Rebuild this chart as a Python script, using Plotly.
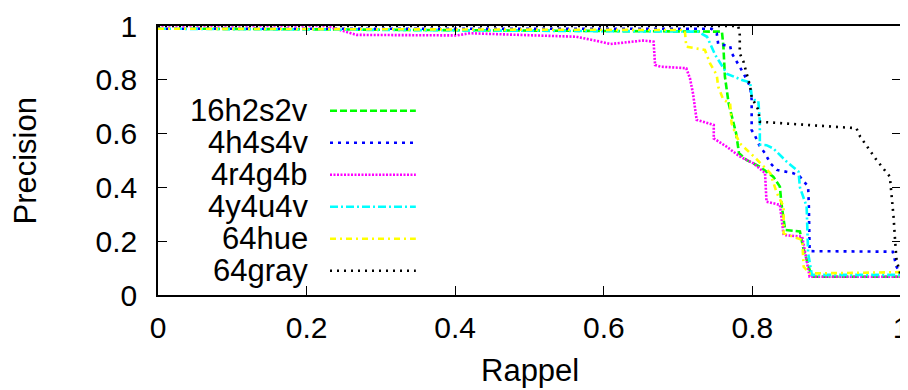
import plotly.graph_objects as go

# ---- data (recall, precision) ----
names = ["16h2s2v", "4h4s4v", "4r4g4b", "4y4u4v", "64hue", "64gray"]

x_16h2s2v = [0.047, 0.759, 0.761, 0.763, 0.768, 0.774, 0.778, 0.782, 0.792, 0.810, 0.828, 0.837, 0.839, 0.844, 0.864, 0.868, 0.877, 0.882, 1.0]
y_16h2s2v = [0.99, 0.979, 0.923, 0.812, 0.713, 0.651, 0.602, 0.527, 0.502, 0.477, 0.440, 0.403, 0.341, 0.242, 0.236, 0.180, 0.093, 0.068, 0.068]

x_4h4s4v = [0.0, 0.745, 0.752, 0.754, 0.770, 0.772, 0.779, 0.788, 0.797, 0.799, 0.799, 0.803, 0.810, 0.817, 0.824, 0.833, 0.855, 0.864, 0.875, 0.876, 0.877, 0.989, 0.994, 1.0]
y_4h4s4v = [0.99, 0.99, 0.973, 0.932, 0.926, 0.900, 0.867, 0.824, 0.775, 0.725, 0.613, 0.595, 0.552, 0.527, 0.490, 0.465, 0.453, 0.440, 0.403, 0.329, 0.163, 0.161, 0.105, 0.075]

x_4r4g4b = [0.0, 0.227, 0.267, 0.402, 0.420, 0.563, 0.595, 0.609, 0.653, 0.667, 0.669, 0.676, 0.711, 0.716, 0.720, 0.725, 0.748, 0.748, 0.765, 0.783, 0.801, 0.817, 0.819, 0.837, 0.842, 0.867, 0.877, 1.0]
y_4r4g4b = [1.0, 1.0, 0.967, 0.965, 0.973, 0.960, 0.942, 0.933, 0.946, 0.942, 0.855, 0.849, 0.843, 0.805, 0.750, 0.651, 0.632, 0.582, 0.552, 0.515, 0.490, 0.453, 0.347, 0.335, 0.223, 0.217, 0.068, 0.068]

x_4y4u4v = [0.0, 0.727, 0.739, 0.747, 0.750, 0.766, 0.788, 0.797, 0.799, 0.803, 0.808, 0.810, 0.810, 0.819, 0.828, 0.846, 0.862, 0.864, 0.873, 0.875, 0.880, 1.0]
y_4y4u4v = [0.99, 0.979, 0.960, 0.915, 0.892, 0.822, 0.797, 0.790, 0.740, 0.725, 0.721, 0.647, 0.559, 0.557, 0.545, 0.496, 0.459, 0.400, 0.329, 0.155, 0.075, 0.075]

x_64hue = [0.0, 0.709, 0.711, 0.725, 0.736, 0.743, 0.752, 0.754, 0.761, 0.770, 0.772, 0.777, 0.783, 0.802, 0.824, 0.833, 0.842, 0.842, 0.867, 0.869, 0.877, 1.0]
y_64hue = [0.99, 0.985, 0.923, 0.917, 0.911, 0.861, 0.818, 0.774, 0.725, 0.713, 0.638, 0.601, 0.564, 0.515, 0.453, 0.378, 0.329, 0.229, 0.205, 0.105, 0.080, 0.085]

x_64gray = [0.0, 0.781, 0.783, 0.783, 0.788, 0.792, 0.797, 0.799, 0.808, 0.810, 0.940, 0.945, 0.967, 0.985, 0.987, 0.990, 0.992, 0.994, 0.999]
y_64gray = [1.0, 1.0, 0.967, 0.898, 0.867, 0.824, 0.775, 0.736, 0.688, 0.644, 0.620, 0.589, 0.502, 0.440, 0.390, 0.290, 0.204, 0.130, 0.078]

tick_vals = [0, 0.2, 0.4, 0.6, 0.8, 1]
tick_text = ["0", "0.2", "0.4", "0.6", "0.8", "1"]

series_x = [x_16h2s2v, x_4h4s4v, x_4r4g4b, x_4y4u4v, x_64hue, x_64gray]
series_y = [y_16h2s2v, y_4h4s4v, y_4r4g4b, y_4y4u4v, y_64hue, y_64gray]
colors = ["#00ff00", "#0000ff", "#ff00ff", "#00ffff", "#ffff00", "#000000"]
dashes = ["7px,3px", "3px,5px", "2px,1.5px", "8px,3px,2px,3px", "6px,4px,2px,4px", "2px,5px"]

FONT = "Liberation Sans, Arial, Helvetica, sans-serif"
FS_TICK = 30
FS_TEXT = 31

fig = go.Figure()
for nm, xs, ys, c, d in zip(names, series_x, series_y, colors, dashes):
    fig.add_trace(go.Scatter(x=xs, y=ys, mode="lines", name=nm,
                             line=dict(color=c, width=2.6, dash=d),
                             showlegend=False))

# gnuplot-style legend: right-aligned label, sample line to its right
leg_y0 = 0.685
leg_dy = 0.119
for i, (nm, c, d) in enumerate(zip(names, colors, dashes)):
    yy = leg_y0 - i * leg_dy
    fig.add_annotation(x=0.2046, y=yy, xref="paper", yref="paper", text=nm,
                       showarrow=False, xanchor="right", yanchor="middle",
                       font=dict(family=FONT, size=FS_TEXT, color="black"))
    fig.add_shape(type="line", xref="paper", yref="paper",
                  x0=0.2315, x1=0.347, y0=yy, y1=yy,
                  line=dict(color=c, width=2.6, dash=d))

# axis titles
fig.add_annotation(x=0.5, y=-0.282, xref="paper", yref="paper", text="Rappel",
                   showarrow=False, xanchor="center", yanchor="middle",
                   font=dict(family=FONT, size=FS_TEXT, color="black"))
fig.add_annotation(x=-0.179, y=0.5, xref="paper", yref="paper", text="Precision",
                   showarrow=False, xanchor="center", yanchor="middle", textangle=-90,
                   font=dict(family=FONT, size=FS_TEXT, color="black"))

axis_common = dict(range=[0, 1], showline=True, linecolor="black", linewidth=1.5,
                   mirror="ticks", ticks="inside", ticklen=9, tickcolor="black",
                   tickwidth=1.2, tickvals=tick_vals, ticktext=tick_text,
                   showgrid=False, zeroline=False, automargin=False,
                   ticklabeloverflow="allow",
                   tickfont=dict(family=FONT, size=FS_TICK, color="black"))

# page body has an 8px margin, so the figure is 900x382 and offset by 8px
fig.update_layout(
    width=900, height=382, autosize=False,
    margin=dict(l=150, r=7, t=18, b=95),
    paper_bgcolor="white", plot_bgcolor="white",
    xaxis=dict(**axis_common, ticklabelstandoff=5),
    yaxis=dict(**axis_common, ticklabelstandoff=13),
)

fig.write_html("out.html")
